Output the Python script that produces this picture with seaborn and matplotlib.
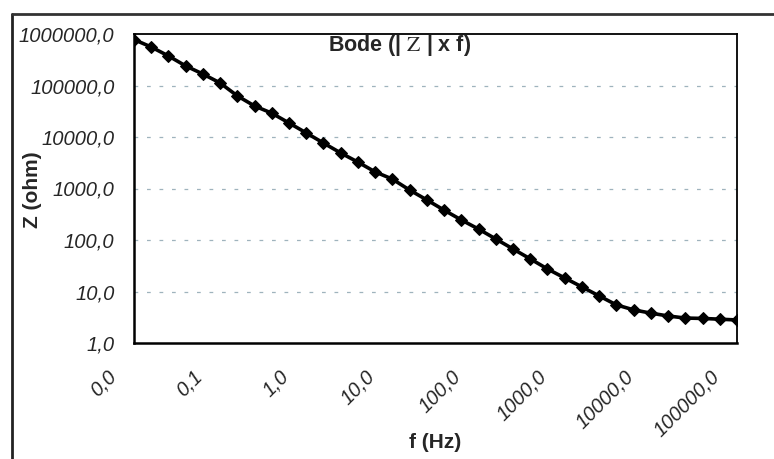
import matplotlib
matplotlib.use("Agg")
import matplotlib.pyplot as plt
import matplotlib.transforms as mtransforms
from matplotlib.lines import Line2D
import seaborn as sns
import pandas as pd

# ---- data ----
freq_hz = [0.01, 0.0158, 0.0251, 0.0398, 0.0631,
           0.1, 0.158, 0.251, 0.398, 0.631,
           1.0, 1.58, 2.51, 3.98, 6.31,
           10.0, 15.8, 25.1, 39.8, 63.1,
           100.0, 158.0, 251.0, 398.0, 631.0,
           1000.0, 1580.0, 2510.0, 3980.0, 6310.0,
           10000.0, 15800.0, 25100.0, 39800.0, 63100.0,
           100000.0]
z_ohm = [780000, 560000, 375000, 240000, 167000,
         112000, 63000, 40000, 29000, 18700,
         12000, 7650, 4900, 3250, 2100,
         1520, 935, 600, 380, 245,
         163, 105, 67, 43, 27.4,
         18.3, 12.3, 8.2, 5.5, 4.4,
         3.8, 3.35, 3.05, 3.0, 2.9,
         2.8]
x_ticks = [0.01, 0.1, 1, 10, 100, 1000, 10000, 100000]
x_tick_labels = ["0,0", "0,1", "1,0", "10,0", "100,0", "1000,0", "10000,0", "100000,0"]
y_ticks = [1, 10, 100, 1000, 10000, 100000, 1000000]
y_tick_labels = ["1,0", "10,0", "100,0", "1000,0", "10000,0", "100000,0", "1000000,0"]
title_text = r"Bode (| $\mathrm{Z}$ | x f)"
x_label = "f (Hz)"
y_label = "Z (ohm)"

df = pd.DataFrame({"f": freq_hz, "Z": z_ohm})

sns.set_style("white")
plt.rcParams["font.family"] = ["Liberation Sans", "DejaVu Sans"]
plt.rcParams["mathtext.fontset"] = "stix"

W, H = 774, 459
fig = plt.figure(figsize=(W / 100, H / 100), dpi=100)
ax = fig.add_axes([134 / W, 1 - 343 / H, (737 - 134) / W, (343 - 34) / H])

sns.lineplot(data=df, x="f", y="Z", ax=ax, color="black", linewidth=2.6,
             marker="D", markersize=6.5, markeredgecolor="black", markerfacecolor="black")

ax.set_xscale("log")
ax.set_yscale("log")
ax.set_xlim(0.01, 100000)
ax.set_ylim(1, 1000000)

ax.set_xticks(x_ticks)
ax.set_xticklabels(x_tick_labels, rotation=45, ha="right", va="top",
                   fontsize=14.5, style="italic")
ax.set_yticks(y_ticks)
ax.set_yticklabels(y_tick_labels, fontsize=14.5, style="italic")
ax.minorticks_off()
ax.tick_params(axis="x", length=0, pad=17)
ax.tick_params(axis="y", length=6, width=1.2, direction="out", pad=8, color="black")

offset = mtransforms.ScaledTranslation(-14 / 100, 0, fig.dpi_scale_trans)
for lab in ax.get_xticklabels():
    lab.set_transform(lab.get_transform() + offset)

# horizontal dotted grid
for yv in y_ticks[1:-1]:
    ax.axhline(yv, color="#9fb3bd", linewidth=0.9, linestyle=(0, (3, 7)), zorder=0)

for side in ["left", "bottom"]:
    ax.spines[side].set_color("black")
    ax.spines[side].set_linewidth(1.8)
for side in ["top", "right"]:
    ax.spines[side].set_color("black")
    ax.spines[side].set_linewidth(1.3)

ax.set_xlabel("")
ax.set_ylabel("")

fig.text(400 / W, 1 - 45 / H, title_text, ha="center", va="center",
         fontsize=15.5, fontweight="bold")
fig.text(435 / W, 1 - 442 / H, x_label, ha="center", va="center", fontsize=15,
         fontweight="bold")
fig.text(32 / W, 1 - 190 / H, y_label, ha="center", va="center", fontsize=15,
         fontweight="bold", rotation=90)

# outer frame (left and top edges)
fig.add_artist(Line2D([12 / W, 12 / W], [0, 1 - 14 / H], transform=fig.transFigure,
                      color="#222222", linewidth=2))
fig.add_artist(Line2D([12 / W, 1], [1 - 14 / H, 1 - 14 / H], transform=fig.transFigure,
                      color="#333333", linewidth=2))

fig.savefig("out.png", dpi=100)
